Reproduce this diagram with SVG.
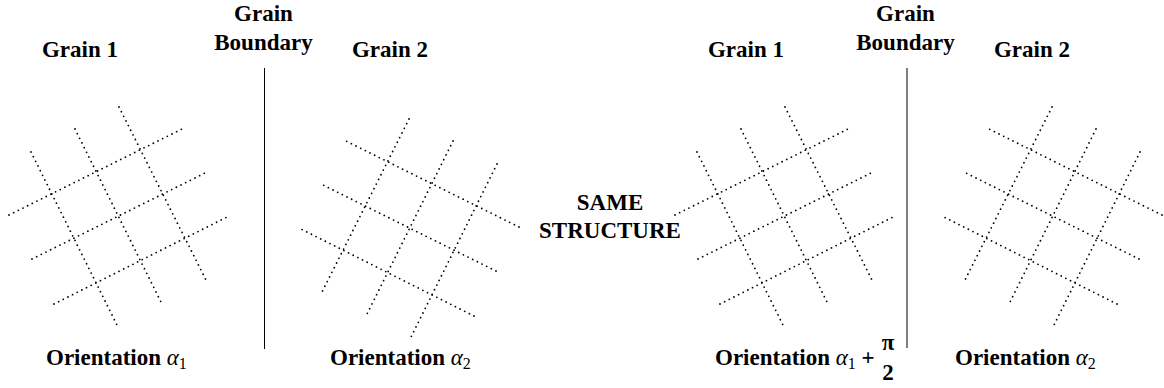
<svg xmlns="http://www.w3.org/2000/svg" width="1164" height="388" viewBox="0 0 1164 388">
<style>
text{font-family:'Liberation Serif','Times New Roman',serif;font-weight:bold;font-size:23px;fill:#000}
.mid{text-anchor:middle}
.al{font-style:italic;font-weight:normal}
.sub{font-size:16px;font-weight:normal}
.dot{stroke:#000;stroke-width:1.8;stroke-linecap:round;stroke-dasharray:0 5.2;fill:none}
.gb{stroke:#000;stroke-width:1;fill:none}
</style>
<defs>
<g id="lattice">
<line class="dot" x1="9" y1="215" x2="184" y2="128"/>
<line class="dot" x1="32" y1="259" x2="207" y2="172"/>
<line class="dot" x1="54" y1="304" x2="229" y2="216"/>
<line class="dot" x1="31" y1="152" x2="118" y2="327"/>
<line class="dot" x1="75" y1="129" x2="162" y2="304"/>
<line class="dot" x1="119" y1="107" x2="207" y2="282"/>
</g>
</defs>
<g font-family="Liberation Serif, serif" font-weight="bold" font-size="23" fill="#000">
<g id="grain1-left"><use href="#lattice"/><text class="mid" x="80" y="57">Grain 1</text><text x="46" y="365">Orientation <tspan class="al">α</tspan><tspan class="sub" dy="3.5">1</tspan></text></g>
<g id="grain2-left"><use href="#lattice" transform="translate(528,12) scale(-1,1)"/><text class="mid" x="390" y="57">Grain 2</text><text x="330" y="365">Orientation <tspan class="al">α</tspan><tspan class="sub" dy="3.5">2</tspan></text></g>
<g id="boundary-left"><line class="gb" x1="264.5" y1="68" x2="264.5" y2="349"/><text class="mid" x="263.5" y="21">Grain</text><text class="mid" x="263.5" y="50">Boundary</text></g>
<g id="same"><text class="mid" x="610" y="210">SAME</text><text class="mid" x="610" y="238">STRUCTURE</text></g>
<g id="grain1-right"><use href="#lattice" transform="translate(666,0)"/><text class="mid" x="746" y="57">Grain 1</text><text x="715" y="365">Orientation <tspan class="al">α</tspan><tspan class="sub" dy="3.5">1</tspan><tspan dy="-3.5"> + </tspan></text><text class="mid" x="888" y="350">π</text><text class="mid" x="888" y="380">2</text></g>
<g id="grain2-right"><use href="#lattice" transform="translate(1171,0) scale(-1,1)"/><text class="mid" x="1032" y="57">Grain 2</text><text x="955" y="365">Orientation <tspan class="al">α</tspan><tspan class="sub" dy="3.5">2</tspan></text></g>
<g id="boundary-right"><line class="gb" x1="907" y1="68" x2="907" y2="348"/><text class="mid" x="905.5" y="21">Grain</text><text class="mid" x="905.5" y="50">Boundary</text></g>
</g>
<g id="connectors"></g>
</svg>
